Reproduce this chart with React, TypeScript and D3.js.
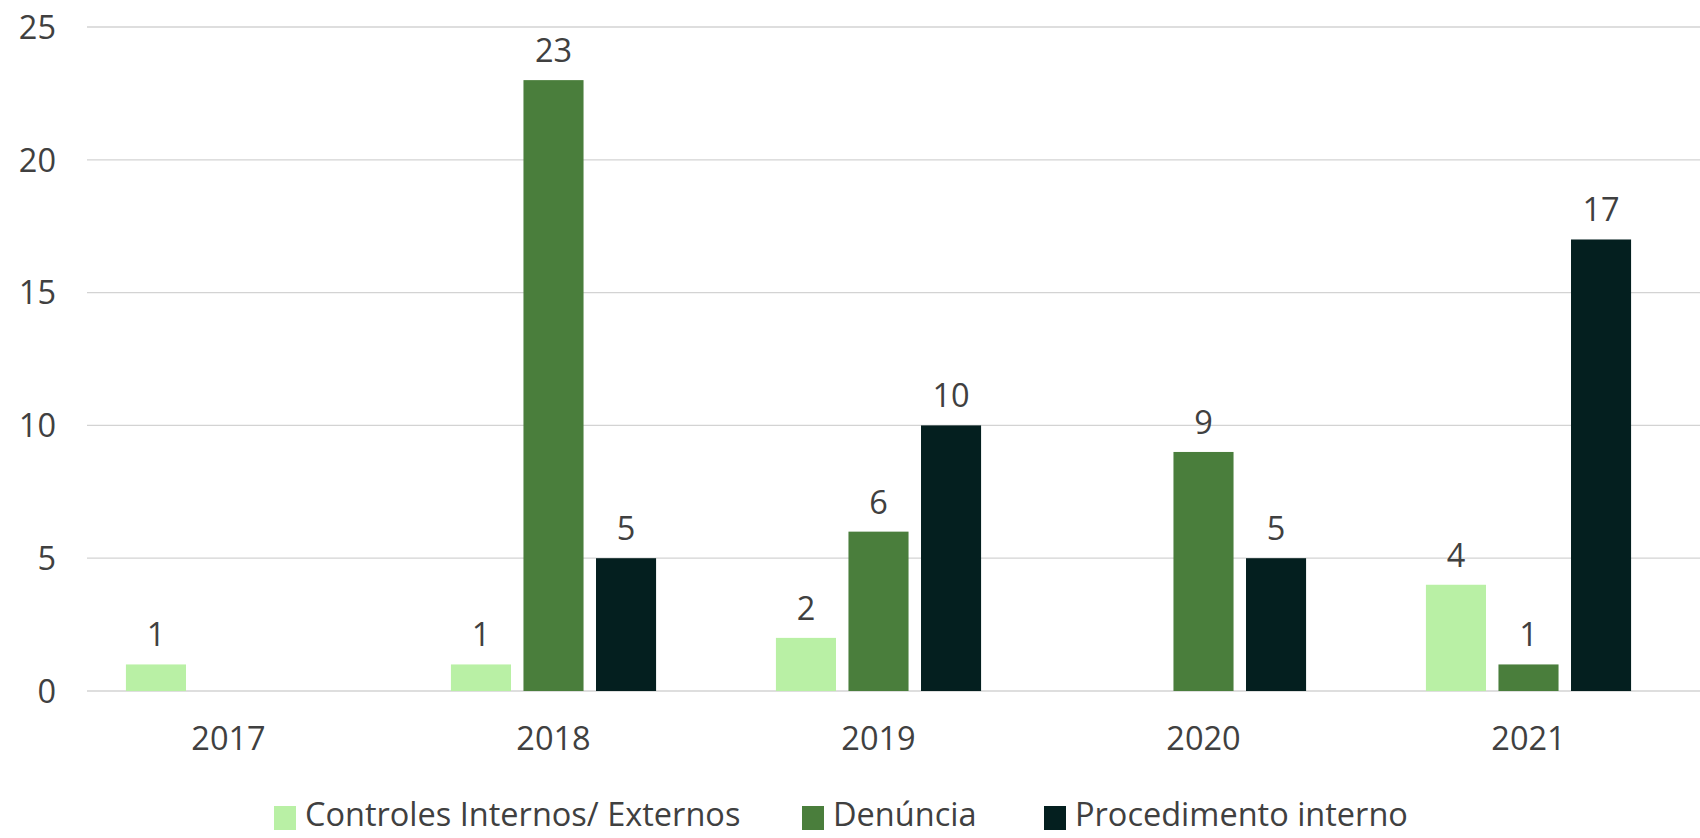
import React from "react";
import * as d3 from "d3";

const categories = ["2017", "2018", "2019", "2020", "2021"];
const seriesNames = ["Controles Internos/ Externos", "Denúncia", "Procedimento interno"];
const controles: (number | null)[] = [1, 1, 2, null, 4];
const denuncia: (number | null)[] = [null, 23, 6, 9, 1];
const procedimento: (number | null)[] = [null, 5, 10, 5, 17];
const yTicks = [0, 5, 10, 15, 20, 25];
const colors = ["#b9f0a5", "#4a7e3c", "#041f1f"];

const W = 1700;
const H = 838;
const FONT = "'Open Sans', sans-serif";
const TEXT = "#404040";
const FS = 32.5;

export default function App() {
  const seriesValues = [controles, denuncia, procedimento];
  const x0 = d3.scaleBand<string>().domain(categories).range([66, 1691]).padding(0);
  const x1 = d3
    .scaleBand<number>()
    .domain([0, 1, 2])
    .range([0, x0.bandwidth()])
    .paddingInner(0.172)
    .paddingOuter(0.826);
  const y = d3.scaleLinear().domain([0, 25]).range([691, 27]);

  const legendX = [274, 802, 1044];

  return (
    <svg
      width={W}
      height={H}
      style={{ position: "absolute", left: 0, top: 0, background: "#fff" }}
      fontFamily={FONT}
    >
      {yTicks.map((t) => (
        <g key={t}>
          <line x1={87} x2={W} y1={y(t)} y2={y(t)} stroke="#d3d3d3" strokeWidth={1.3} />
          <text x={56} y={y(t)} dy="0.36em" textAnchor="end" fontSize={FS} fill={TEXT}>
            {t}
          </text>
        </g>
      ))}
      {categories.map((c, i) => (
        <g key={c}>
          {seriesValues.map((vals, s) => {
            const v = vals[i];
            if (v == null) return null;
            const bx = (x0(c) as number) + (x1(s) as number);
            return (
              <g key={s}>
                <rect x={bx} y={y(v)} width={x1.bandwidth()} height={y(0) - y(v)} fill={colors[s]} />
                <text
                  x={bx + x1.bandwidth() / 2}
                  y={y(v) - 18}
                  textAnchor="middle"
                  fontSize={FS}
                  fill={TEXT}
                >
                  {v}
                </text>
              </g>
            );
          })}
          <text
            x={(x0(c) as number) + x0.bandwidth() / 2}
            y={750}
            textAnchor="middle"
            fontSize={FS}
            fill={TEXT}
          >
            {c}
          </text>
        </g>
      ))}
      {seriesNames.map((n, s) => (
        <g key={n}>
          <rect x={legendX[s]} y={806} width={22} height={24} fill={colors[s]} />
          <text x={legendX[s] + 31} y={826} fontSize={FS} fill={TEXT}>
            {n}
          </text>
        </g>
      ))}
    </svg>
  );
}
